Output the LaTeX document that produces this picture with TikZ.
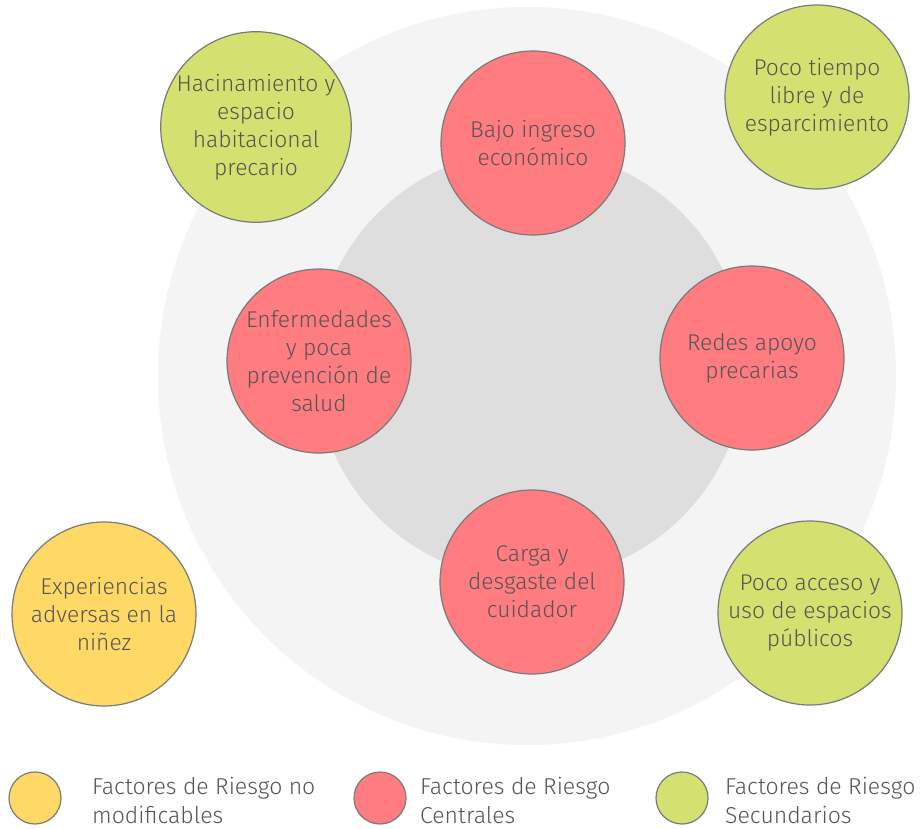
\documentclass[tikz,border=0pt]{standalone}
\usepackage{fontspec}
\setmainfont{Fira Sans}[UprightFont={* Light}]
\definecolor{ringlight}{HTML}{F4F4F4}
\definecolor{ringdark}{HTML}{DEDEDE}
\definecolor{central}{HTML}{FF7C80}
\definecolor{secundario}{HTML}{D4E06F}
\definecolor{nomod}{HTML}{FFD966}
\definecolor{edge}{HTML}{7A7A7A}
\definecolor{txt}{HTML}{555555}
\tikzset{
  factor/.style={circle, draw=edge, line width=1.2pt, minimum size=184pt,
    inner sep=0pt, align=center, text=txt,
    font=\fontsize{22.8}{28}\selectfont},
  legdot/.style={circle, draw=edge, line width=1.2pt, minimum size=52pt, inner sep=0pt},
  legtext/.style={anchor=west, align=left, text=txt, inner sep=0pt,
    font=\fontsize{23}{29}\selectfont}
}
\begin{document}
\begin{tikzpicture}[x=1pt,y=-1pt]
\useasboundingbox[fill=white] (0,0) rectangle (924,828);
% background rings
\fill[ringlight] (527,376) circle (369pt);
\fill[ringdark] (530,365) circle (215pt);
% central risk factors
\node[factor, fill=central] (bajo) at (533,143) {Bajo ingreso\\económico};
\node[factor, fill=central] (redes) at (752,358) {Redes apoyo\\precarias};
\node[factor, fill=central] (carga) at (532,582) {Carga y\\desgaste del\\cuidador};
\node[factor, fill=central] (enferm) at (319,361) {Enfermedades\\y poca\\prevención de\\salud};
% secondary risk factors
\node[factor, fill=secundario] (hacin) at (256,127) {Hacinamiento y\\espacio\\habitacional\\precario};
\node[factor, fill=secundario] (tiempo) at (817,97) {Poco tiempo\\libre y de\\esparcimiento};
\node[factor, fill=secundario] (acceso) at (810,613) {Poco acceso y\\uso de espacios\\públicos};
% non-modifiable factor
\node[factor, fill=nomod] (exper) at (104,614) {Experiencias\\adversas en la\\niñez};
% legend
\node[legdot, fill=nomod] (lnomod) at (35,798) {};
\node[legtext] (tnomod) at (92,800) {Factores de Riesgo no\\modificables};
\node[legdot, fill=central] (lcent) at (380,798) {};
\node[legtext] (tcent) at (420,800) {Factores de Riesgo\\Centrales};
\node[legdot, fill=secundario] (lsec) at (682,798) {};
\node[legtext] (tsec) at (725,800) {Factores de Riesgo\\Secundarios};
\end{tikzpicture}
\end{document}
